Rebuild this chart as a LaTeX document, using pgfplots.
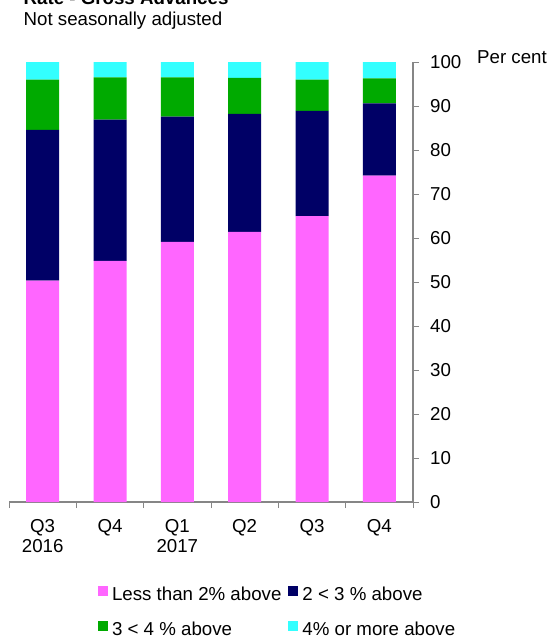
\documentclass[border=0pt]{standalone}
\usepackage{fontspec}
\setmainfont{Liberation Sans}
\usepackage{pgfplots}
\pgfplotsset{compat=1.18}
\usepackage{pgfplotstable}
\definecolor{cpink}{HTML}{FF66FF}
\definecolor{cnavy}{HTML}{000066}
\definecolor{cgreen}{HTML}{00AA00}
\definecolor{ccyan}{HTML}{33FFFF}
\definecolor{axgray}{HTML}{868686}
\newcommand{\chf}{\fontsize{18.7bp}{20bp}\selectfont}
\pgfplotstableread{
x a b c d
0 50.3 34.3 11.4 4.0
1 54.8 32.1 9.6 3.5
2 59.1 28.5 8.9 3.5
3 61.4 26.8 8.2 3.6
4 65.0 23.9 7.1 4.0
5 74.2 16.4 5.7 3.7
}\datatable
\pgfplotsset{sqlegend/.style={legend image code/.code={\fill[##1] (0bp,-1bp) rectangle (10bp,9bp);}}}
\begin{document}
\begin{tikzpicture}[font=\chf]
\useasboundingbox (0bp,0bp) rectangle (548bp,-639bp);
\node[anchor=base west, inner sep=0pt, font=\bfseries\chf] at (23.5bp,-4bp) {Rate - Gross Advances};
\node[anchor=base west, inner sep=0pt] at (23.5bp,-25bp) {Not seasonally adjusted};
\node[anchor=base west, inner sep=0pt] at (477bp,-63bp) {Per cent};
\begin{axis}[
  at={(9bp,-502bp)}, anchor=south west,
  scale only axis, width=404bp, height=440bp,
  ybar stacked, bar width=33bp,
  xmin=-0.5, xmax=5.5, ymin=0, ymax=100,
  axis x line*=bottom, axis y line*=right,
  axis line style={axgray, line width=1.2bp},
  tick align=outside,
  tick style={axgray, line width=1bp},
  xtick={0,...,5},
  xticklabels={{Q3\\2016},Q4,{Q1\\2017},Q2,Q3,Q4},
  major x tick style={draw=none},
  minor xtick={-0.5,0.5,...,5.5},
  minor tick length=6bp, major tick length=6bp,
  ytick={0,10,...,100},
  /pgf/number format/assume math mode=true,
  ticklabel style={font=\chf},
  xticklabel style={align=center, inner sep=0pt, anchor=north, yshift=-11bp},
  yticklabel style={anchor=west, inner sep=0pt, xshift=11bp},
  legend columns=2,
  legend cell align=left,
  legend style={at={(0.2203,-0.1909)}, anchor=north west, draw=none, fill=none,
    inner sep=0pt, outer sep=0pt, row sep=17bp, font=\chf,
    nodes={inner sep=0pt, text height=14bp, text depth=4bp, anchor=west},
    /tikz/every odd column/.append style={column sep=4bp},
    /tikz/every even column/.append style={column sep=7bp}},
]
\addplot[fill=cpink, draw=none, sqlegend] table[x=x, y=a] {\datatable};
\addlegendentry{Less than 2\% above}
\addplot[fill=cnavy, draw=none, sqlegend] table[x=x, y=b] {\datatable};
\addlegendentry{2 < 3 \% above}
\addplot[fill=cgreen, draw=none, sqlegend] table[x=x, y=c] {\datatable};
\addlegendentry{3 < 4 \% above}
\addplot[fill=ccyan, draw=none, sqlegend] table[x=x, y=d] {\datatable};
\addlegendentry{4\% or more above}
\end{axis}
\end{tikzpicture}
\end{document}
